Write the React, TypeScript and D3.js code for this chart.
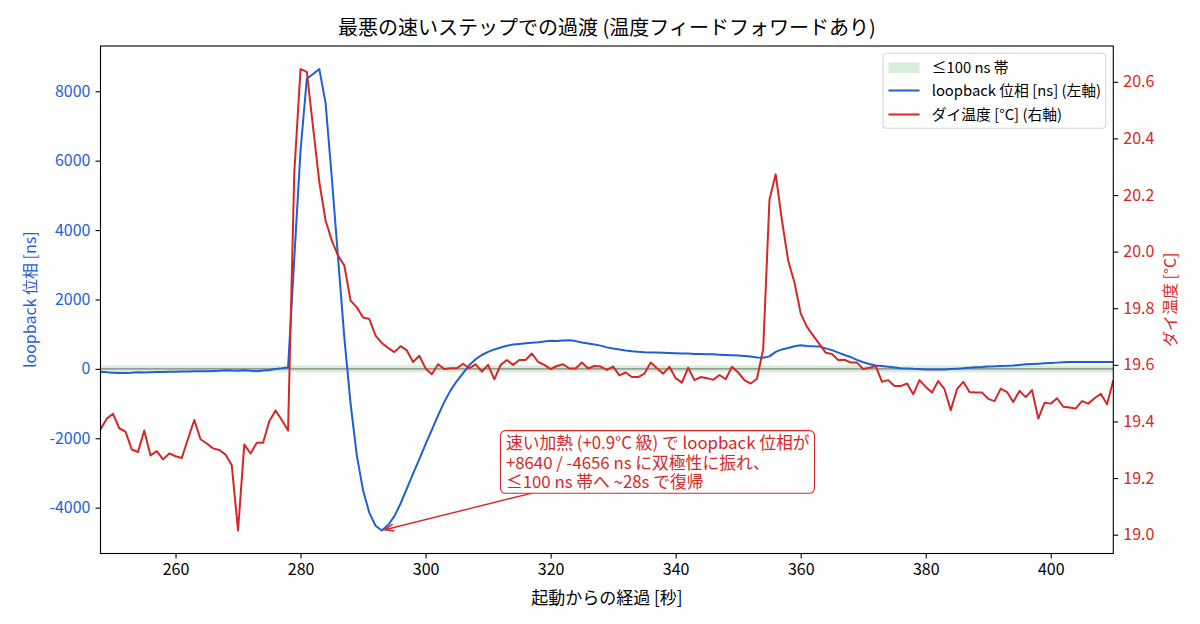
import React, { useEffect, useRef } from 'react';
import * as d3 from 'd3';

// ---- data (1 s samples starting at t = 248 s) ----
const START_TIME = 248;

const loopbackPhase: number[] = [
  // 248-278
  -86, -100, -110, -120, -118, -115, -100, -105, -95, -88, -90, -80, -85, -78, -75, -72,
  -70, -65, -60, -52, -40, -50, -55, -42, -55, -70, -50, -30, -5, 15, 40,
  // 279-293
  3200, 6300, 8360, 8500, 8640, 7666, 5500, 3200, 900, -1000, -2500, -3500, -4150, -4520, -4656,
  // 294-323
  -4500, -4250, -3880, -3450, -3020, -2600, -2170, -1760, -1340, -950, -620, -350, -120, 110, 280,
  400, 490, 560, 615, 665, 700, 720, 740, 755, 770, 790, 810, 800, 815, 825,
  // 324-353
  800, 760, 730, 700, 670, 620, 585, 560, 530, 505, 490, 480, 475, 470, 462,
  458, 450, 445, 440, 432, 430, 422, 418, 410, 402, 395, 388, 370, 355, 330,
  // 354-383
  320, 360, 490, 560, 600, 650, 680, 660, 650, 645, 590, 540, 470, 400, 340,
  260, 190, 140, 100, 80, 60, 40, 20, 10, 0, -5, -15, -20, -20, -15,
  // 384-410
  -5, 5, 15, 30, 45, 55, 70, 75, 85, 90, 100, 115, 130, 140, 150, 160, 170, 180, 190,
  200, 200, 200, 200, 200, 200, 200, 200,
];

const dieTemp: number[] = [
  // 248-278
  19.372, 19.41, 19.427, 19.376, 19.364, 19.301, 19.292, 19.368, 19.28, 19.295, 19.266,
  19.287, 19.277, 19.271, 19.339, 19.405, 19.337, 19.322, 19.305, 19.299, 19.283, 19.245,
  19.015, 19.319, 19.287, 19.325, 19.325, 19.401, 19.439, 19.405, 19.368,
  // 279-302
  20.281, 20.645, 20.635, 20.44, 20.246, 20.11, 20.039, 19.986, 19.951, 19.827, 19.803,
  19.767, 19.762, 19.703, 19.677, 19.66, 19.645, 19.666, 19.651, 19.61, 19.632, 19.587,
  19.567, 19.602,
  // 303-353
  19.585, 19.588, 19.588, 19.604, 19.588, 19.602, 19.576, 19.6, 19.549, 19.6, 19.617,
  19.6, 19.617, 19.617, 19.64, 19.61, 19.6, 19.585, 19.596, 19.602, 19.587, 19.587,
  19.608, 19.587, 19.596, 19.594, 19.582, 19.594, 19.563, 19.573, 19.557, 19.557, 19.569,
  19.608, 19.588, 19.569, 19.593, 19.553, 19.537, 19.59, 19.546, 19.557, 19.553, 19.547,
  19.564, 19.549, 19.593, 19.573, 19.546, 19.534, 19.551,
  // 354-371
  19.655, 20.183, 20.273, 20.11, 19.968, 19.891, 19.782, 19.734, 19.703, 19.673, 19.643,
  19.638, 19.617, 19.618, 19.608, 19.608, 19.585, 19.59,
  // 372-410
  19.596, 19.54, 19.546, 19.525, 19.525, 19.534, 19.496, 19.546, 19.522, 19.502, 19.543,
  19.514, 19.44, 19.514, 19.54, 19.504, 19.502, 19.502, 19.48, 19.472, 19.516, 19.504,
  19.469, 19.508, 19.486, 19.511, 19.41, 19.466, 19.463, 19.482, 19.452, 19.449, 19.446,
  19.472, 19.463, 19.482, 19.498, 19.461, 19.546,
];

const xTicks = [260, 280, 300, 320, 340, 360, 380, 400];
const phaseTicks = [-4000, -2000, 0, 2000, 4000, 6000, 8000];
const tempTicks = [19.0, 19.2, 19.4, 19.6, 19.8, 20.0, 20.2, 20.4, 20.6];
const BAND_NS = 100;

const TITLE = '最悪の速いステップでの過渡 (温度フィードフォワードあり)';
const X_LABEL = '起動からの経過 [秒]';
const Y_LEFT_LABEL = 'loopback 位相 [ns]';
const Y_RIGHT_LABEL = 'ダイ温度 [°C]';
const LEGEND_LABELS = ['≤100 ns 帯', 'loopback 位相 [ns] (左軸)', 'ダイ温度 [°C] (右軸)'];
const ANNOTATION_LINES = [
  '速い加熱 (+0.9°C 級) で loopback 位相が',
  '+8640 / -4656 ns に双極性に振れ、',
  '≤100 ns 帯へ ~28s で復帰',
];
// annotation anchor (data coords) and first-line baseline origin (data coords)
const ANN_POINT = { t: 293, v: -4656 };
const ANN_TEXT = { t: 312.85, v: -2318 };

const BLUE = '#1f5fd6';
const RED = '#d62728';
const FONT = '"Noto Sans CJK JP", "Noto Sans", sans-serif';

export default function App() {
  const ref = useRef<SVGSVGElement>(null);

  useEffect(() => {
    const svg = d3.select(ref.current);
    svg.selectAll('*').remove();

    const m = { left: 100.5, right: 1113.3, top: 46, bottom: 553.5 };
    const times = loopbackPhase.map((_, i) => START_TIME + i);

    const x = d3.scaleLinear().domain(d3.extent(times) as [number, number]).range([m.left, m.right]);
    const [bMin, bMax] = d3.extent(loopbackPhase) as [number, number];
    const bPad = (bMax - bMin) * 0.05;
    const yL = d3.scaleLinear().domain([bMin - bPad, bMax + bPad]).range([m.bottom, m.top]);
    const [tMin, tMax] = d3.extent(dieTemp) as [number, number];
    const tPad = (tMax - tMin) * 0.05;
    const yR = d3.scaleLinear().domain([tMin - tPad, tMax + tPad]).range([m.bottom, m.top]);

    svg.append('rect').attr('width', 1200).attr('height', 624).attr('fill', 'white');

    const defs = svg.append('defs');
    defs.append('clipPath').attr('id', 'plotclip')
      .append('rect').attr('x', m.left).attr('y', m.top)
      .attr('width', m.right - m.left).attr('height', m.bottom - m.top);

    const plot = svg.append('g').attr('clip-path', 'url(#plotclip)');

    // band
    plot.append('rect')
      .attr('x', m.left).attr('width', m.right - m.left)
      .attr('y', yL(BAND_NS)).attr('height', yL(-BAND_NS) - yL(BAND_NS))
      .attr('fill', '#2ca02c').attr('fill-opacity', 0.18);
    // zero line
    plot.append('line')
      .attr('x1', m.left).attr('x2', m.right)
      .attr('y1', yL(0)).attr('y2', yL(0))
      .attr('stroke', '#808080').attr('stroke-width', 1.1);

    const blueLine = d3.line<number>().x((_, i) => x(times[i])).y((d) => yL(d));
    plot.append('path').datum(loopbackPhase)
      .attr('d', blueLine).attr('fill', 'none').attr('stroke', BLUE)
      .attr('stroke-width', 2).attr('stroke-linejoin', 'round');

    const redLine = d3.line<number>().x((_, i) => x(times[i])).y((d) => yR(d));
    plot.append('path').datum(dieTemp)
      .attr('d', redLine).attr('fill', 'none').attr('stroke', RED)
      .attr('stroke-width', 2).attr('stroke-linejoin', 'round');

    // axes
    const styleAxis = (g: any, color: string) => {
      g.select('.domain').remove();
      g.selectAll('.tick line').attr('stroke', 'black').attr('stroke-width', 1.1);
      g.selectAll('.tick text').attr('fill', color).style('font-family', FONT).style('font-size', '16px');
    };
    const gx = svg.append('g').attr('transform', `translate(0,${m.bottom})`)
      .call(d3.axisBottom(x).tickValues(xTicks).tickSize(5).tickPadding(5).tickFormat((d: any) => String(d)));
    styleAxis(gx, 'black');
    const gl = svg.append('g').attr('transform', `translate(${m.left},0)`)
      .call(d3.axisLeft(yL).tickValues(phaseTicks).tickSize(5).tickPadding(5).tickFormat((d: any) => String(d)));
    styleAxis(gl, BLUE);
    const gr = svg.append('g').attr('transform', `translate(${m.right},0)`)
      .call(d3.axisRight(yR).tickValues(tempTicks).tickSize(5).tickPadding(5).tickFormat(d3.format('.1f')));
    styleAxis(gr, RED);

    // frame
    svg.append('rect').attr('x', m.left).attr('y', m.top)
      .attr('width', m.right - m.left).attr('height', m.bottom - m.top)
      .attr('fill', 'none').attr('stroke', 'black').attr('stroke-width', 1.1);

    // labels
    svg.append('text').attr('x', (m.left + m.right) / 2).attr('y', 35)
      .attr('text-anchor', 'middle').style('font-family', FONT).style('font-size', '20px')
      .attr('fill', 'black').text(TITLE);
    svg.append('text').attr('x', (m.left + m.right) / 2).attr('y', 603.5)
      .attr('text-anchor', 'middle').style('font-family', FONT).style('font-size', '17px')
      .attr('fill', 'black').text(X_LABEL);
    svg.append('text').attr('transform', `translate(36,${(m.top + m.bottom) / 2}) rotate(-90)`)
      .attr('text-anchor', 'middle').style('font-family', FONT).style('font-size', '16px')
      .attr('fill', BLUE).text(Y_LEFT_LABEL);
    svg.append('text').attr('transform', `translate(1176,${(m.top + m.bottom) / 2}) rotate(-90)`)
      .attr('text-anchor', 'middle').style('font-family', FONT).style('font-size', '16px')
      .attr('fill', RED).text(Y_RIGHT_LABEL);

    // legend
    const lg = svg.append('g');
    const lx = 883, ly = 53.3, lw = 222.7, lh = 75;
    lg.append('rect').attr('x', lx).attr('y', ly).attr('width', lw).attr('height', lh)
      .attr('rx', 3).attr('fill', 'white').attr('fill-opacity', 0.8)
      .attr('stroke', '#d6d6d6').attr('stroke-width', 1.1);
    const rowY = [67.7, 90.5, 114.5];
    lg.append('rect').attr('x', 888.5).attr('y', rowY[0] - 5.3).attr('width', 31).attr('height', 10.6)
      .attr('fill', '#2ca02c').attr('fill-opacity', 0.18);
    lg.append('line').attr('x1', 888.5).attr('x2', 919.5).attr('y1', rowY[1]).attr('y2', rowY[1])
      .attr('stroke', BLUE).attr('stroke-width', 2);
    lg.append('line').attr('x1', 888.5).attr('x2', 919.5).attr('y1', rowY[2]).attr('y2', rowY[2])
      .attr('stroke', RED).attr('stroke-width', 2);
    LEGEND_LABELS.forEach((lab, i) => {
      lg.append('text').attr('x', 931.7).attr('y', rowY[i]).attr('dy', '0.36em')
        .style('font-family', FONT).style('font-size', '14.8px').attr('fill', 'black').text(lab);
    });

    // annotation
    const ag = svg.append('g');
    const fs = 16.8;
    const lineH = 19.5;
    const tx = x(ANN_TEXT.t);
    const b1 = yL(ANN_TEXT.v);
    const texts = ANNOTATION_LINES.map((s, i) =>
      ag.append('text').attr('x', tx).attr('y', b1 + i * lineH)
        .style('font-family', FONT).style('font-size', `${fs}px`).attr('fill', RED).text(s)
    );
    const widths = texts.map((t) => (t.node() as SVGTextElement).getComputedTextLength());
    const tw = Math.max(...widths);
    const bx0 = tx - 5.5, by0 = b1 - 18.7;
    const bx1 = tx + tw + 5, by1 = b1 + 2 * lineH + 5;
    ag.insert('rect', 'text').attr('x', bx0).attr('y', by0).attr('width', bx1 - bx0).attr('height', by1 - by0)
      .attr('rx', 5).attr('fill', 'white').attr('stroke', RED).attr('stroke-width', 1.1);

    // arrow from box center toward point, clipped at box edge
    const px = x(ANN_POINT.t), py = yL(ANN_POINT.v);
    const cx = (bx0 + bx1) / 2, cy = (by0 + by1) / 2;
    const dx = px - cx, dy = py - cy;
    const sx = dx !== 0 ? Math.abs(((bx1 - bx0) / 2) / dx) : Infinity;
    const sy = dy !== 0 ? Math.abs(((by1 - by0) / 2) / dy) : Infinity;
    const s = Math.min(sx, sy);
    const ax0 = cx + dx * s, ay0 = cy + dy * s;
    const len = Math.hypot(px - ax0, py - ay0);
    const ux = (px - ax0) / len, uy = (py - ay0) / len;
    const ex = px - ux * 3, ey = py - uy * 3;
    ag.append('line').attr('x1', ax0).attr('y1', ay0).attr('x2', ex).attr('y2', ey)
      .attr('stroke', RED).attr('stroke-width', 1.4);
    const hl = 9, hw = 3.5;
    const nx = -uy, ny = ux;
    ag.append('path')
      .attr('d', `M${ex - ux * hl + nx * hw},${ey - uy * hl + ny * hw}L${ex},${ey}L${ex - ux * hl - nx * hw},${ey - uy * hl - ny * hw}`)
      .attr('fill', 'none').attr('stroke', RED).attr('stroke-width', 1.4);
  }, []);

  return (
    <svg ref={ref} width={1200} height={624}
      style={{ position: 'absolute', left: 0, top: 0, display: 'block' }} />
  );
}
